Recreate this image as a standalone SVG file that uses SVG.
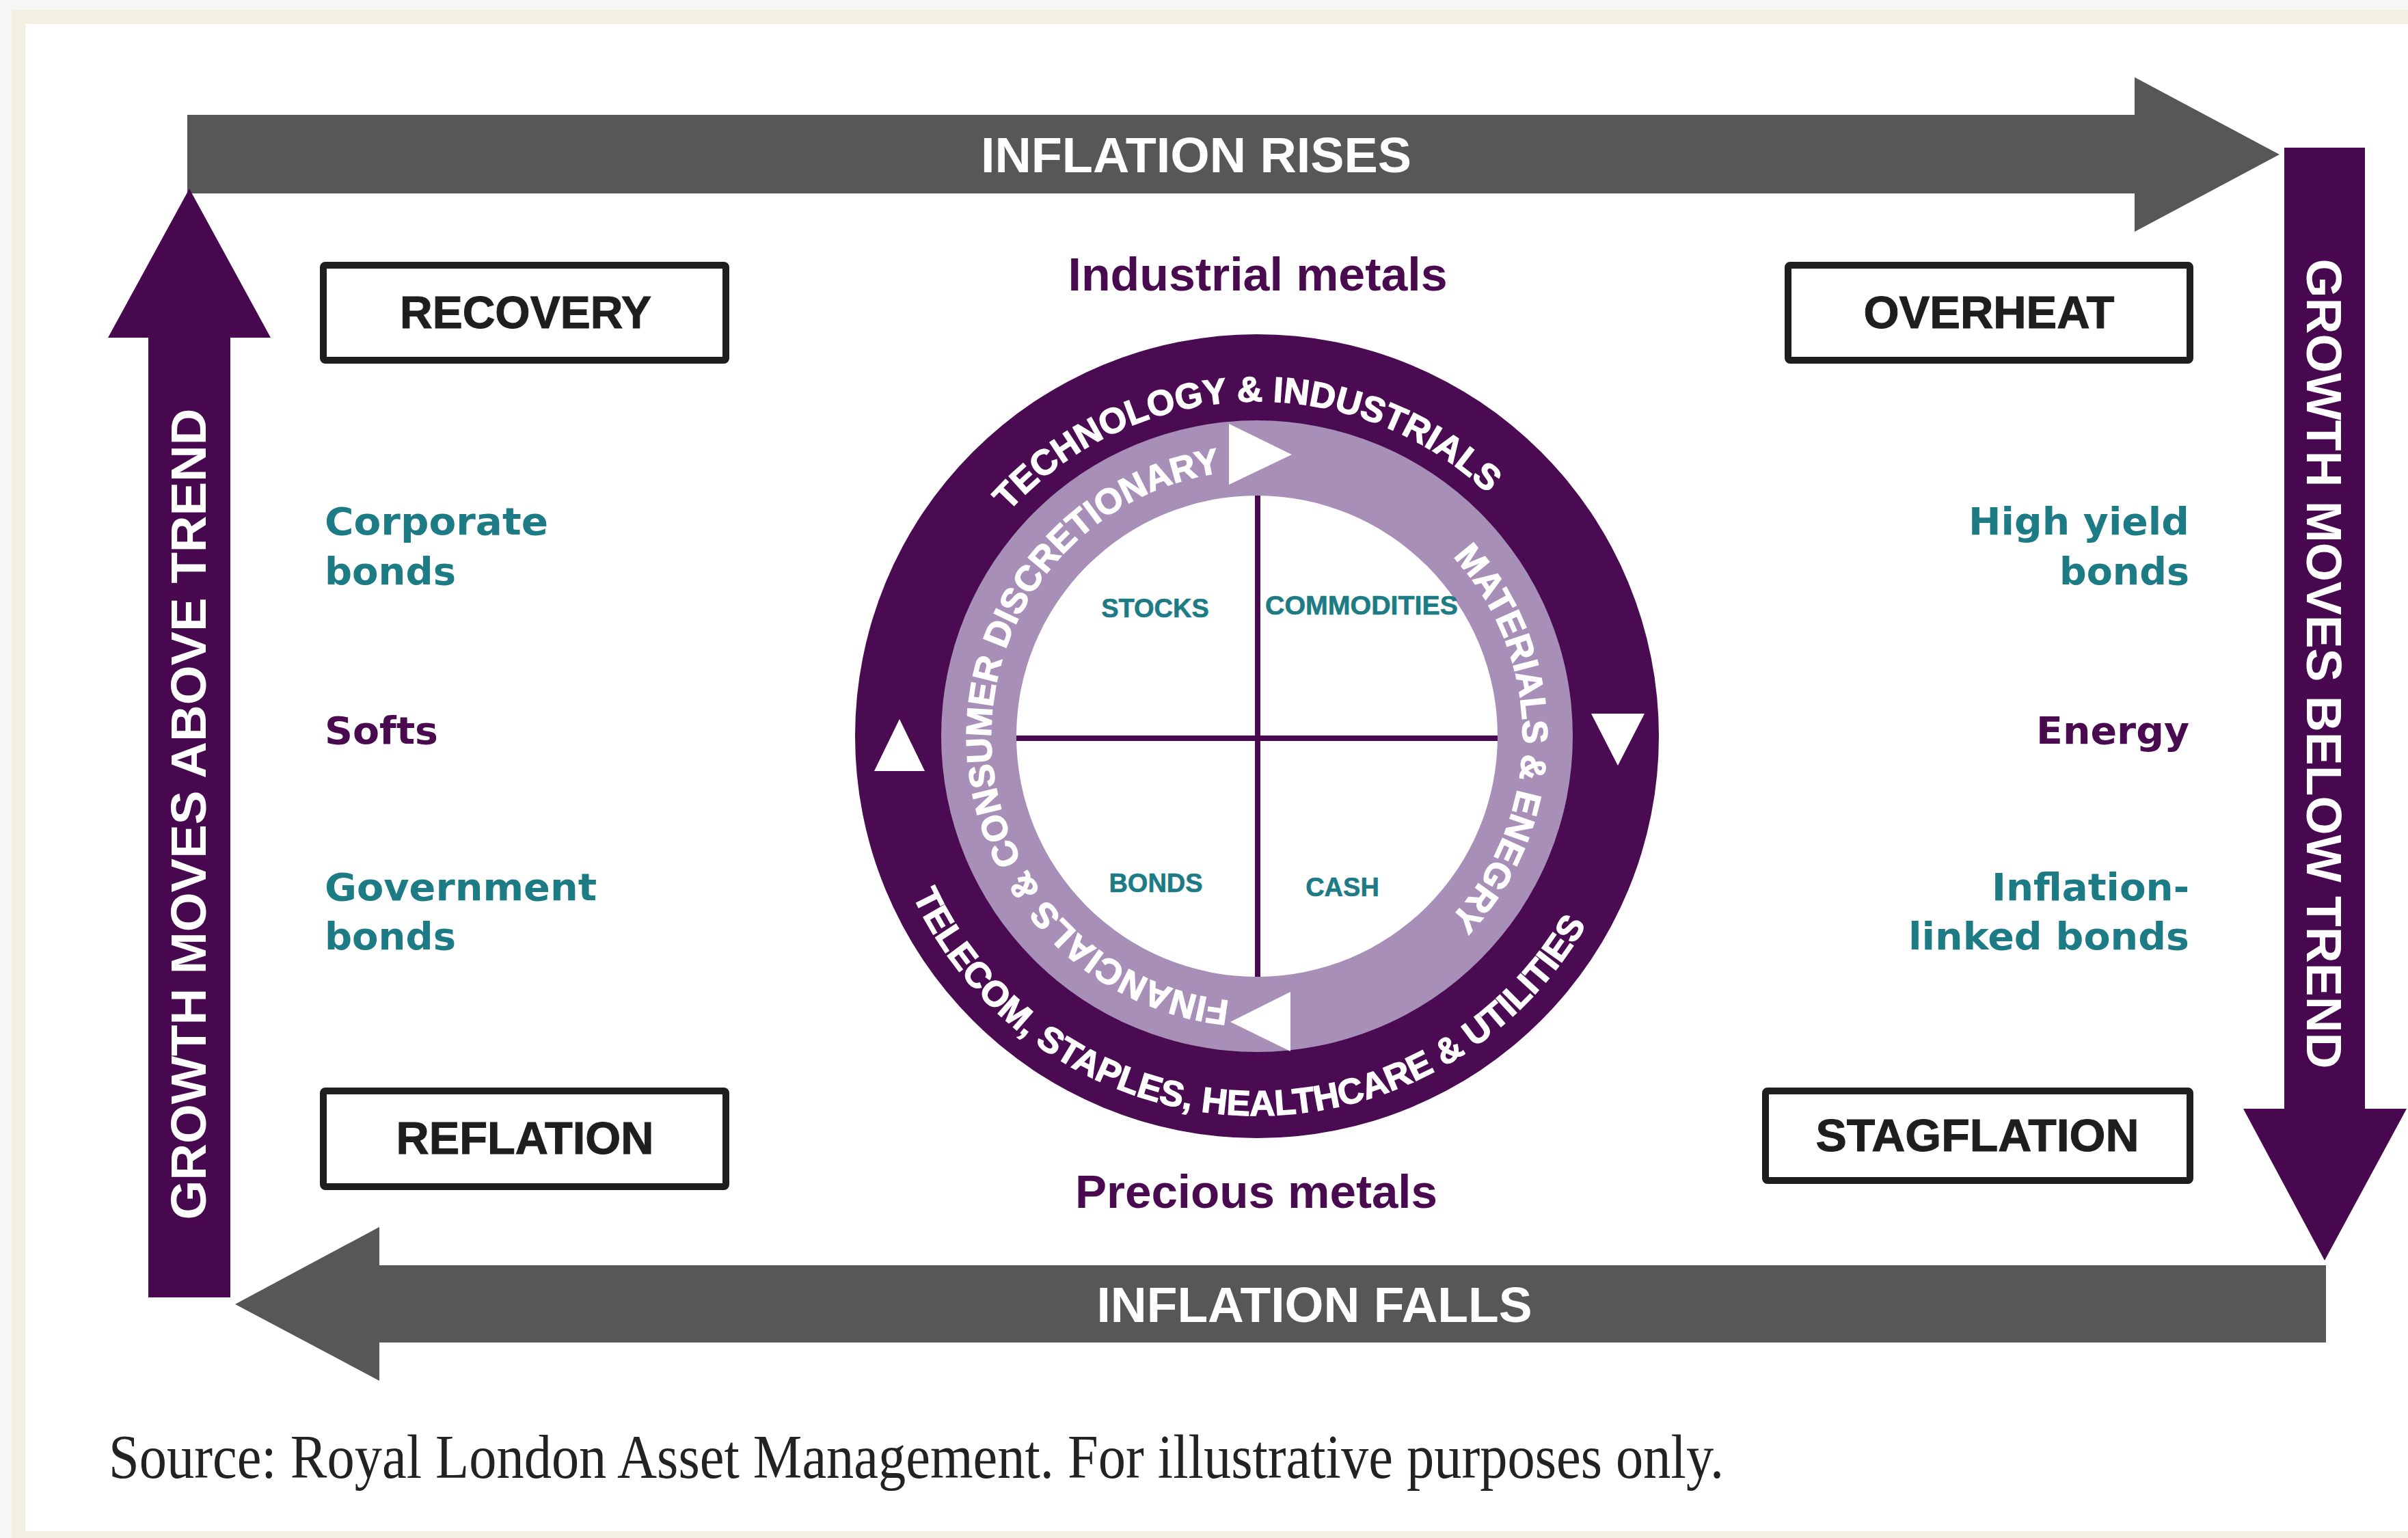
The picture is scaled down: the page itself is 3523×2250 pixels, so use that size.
<svg xmlns="http://www.w3.org/2000/svg" xmlns:xlink="http://www.w3.org/1999/xlink" width="3523" height="2250" viewBox="0 0 3523 2250">
  <style>
    .arrow-grey { fill: #575757; }
    .arrow-purple { fill: #48084f; }
    .arrow-label { font-family: "Liberation Sans", Arial, sans-serif; font-weight: bold; font-size: 72px; fill: #ffffff; }
    .phase-box { fill: #ffffff; stroke: #1e1e1e; stroke-width: 10; }
    .phase-label { font-family: "Liberation Sans", Arial, sans-serif; font-weight: bold; font-size: 66px; fill: #1e1e1e; stroke: #1e1e1e; stroke-width: 1; text-anchor: middle; }
    .asset { font-family: "DejaVu Sans", Verdana, sans-serif; font-weight: bold; font-size: 55px; }
    .teal { fill: #1c7b84; }
    .plum { fill: #4a0a50; }
    .metal { font-family: "Liberation Sans", Arial, sans-serif; font-weight: bold; font-size: 68px; fill: #4a0a50; text-anchor: middle; }
    .quad { font-family: "Liberation Sans", Arial, sans-serif; font-weight: bold; font-size: 38px; fill: #1c7b84; stroke: #1c7b84; stroke-width: 0.6; text-anchor: middle; }
    .ring-text { font-family: "Liberation Sans", Arial, sans-serif; font-weight: bold; font-size: 52px; fill: #ffffff; stroke: #ffffff; stroke-width: 1.4; text-anchor: middle; }
    .source { font-family: "Liberation Serif", "Times New Roman", serif; font-size: 90px; fill: #222222; }
  </style>
  <defs>
    <!-- outer ring, top half, clockwise (baseline inside) -->
    <path id="arcTop" d="M 1349 1077 A 490 490 0 0 1 2329 1077"/>
    <!-- outer ring, bottom half, counter-clockwise (baseline outside) -->
    <path id="arcBottom" d="M 1284 1077 A 555 555 0 0 0 2394 1077"/>
    <!-- inner ring, right half, clockwise -->
    <path id="arcRight" d="M 1839 688 A 389 389 0 0 1 1839 1466"/>
    <!-- inner ring, left half, clockwise -->
    <path id="arcLeft" d="M 1839 1466 A 389 389 0 0 1 1839 688"/>
  </defs>

  <!-- page frame -->
  <rect x="0" y="0" width="3523" height="2250" fill="#f6f6f4"/>
  <rect x="17" y="15" width="3506" height="2235" fill="#f3efe1"/>
  <rect x="37" y="35" width="3486" height="2205" fill="#ffffff"/>

  <!-- big cycle arrows -->
  <g id="connectors">
    <g id="arrow-inflation-rises">
      <polygon class="arrow-grey" points="274,168 3123,168 3123,113 3335,226 3123,339 3123,283 274,283"/>
      <text class="arrow-label" x="1750" y="252" text-anchor="middle" textLength="630" lengthAdjust="spacingAndGlyphs">INFLATION RISES</text>
    </g>
    <g id="arrow-growth-below">
      <polygon class="arrow-purple" points="3342,216 3460,216 3460,1622 3521,1622 3401,1844 3282,1622 3342,1622"/>
      <text class="arrow-label" transform="translate(3375,971) rotate(90)" text-anchor="middle" textLength="1185" lengthAdjust="spacingAndGlyphs">GROWTH MOVES BELOW TREND</text>
    </g>
    <g id="arrow-inflation-falls">
      <polygon class="arrow-grey" points="3403,1851 555,1851 555,1795 344,1908 555,2020 555,1964 3403,1964"/>
      <text class="arrow-label" x="1923" y="1934" text-anchor="middle" textLength="637" lengthAdjust="spacingAndGlyphs">INFLATION FALLS</text>
    </g>
    <g id="arrow-growth-above">
      <polygon class="arrow-purple" points="217,1898 217,494 158,494 277,276 396,494 337,494 337,1898"/>
      <text class="arrow-label" transform="translate(301,1191) rotate(-90)" text-anchor="middle" textLength="1187" lengthAdjust="spacingAndGlyphs">GROWTH MOVES ABOVE TREND</text>
    </g>
  </g>

  <!-- phase boxes -->
  <g id="recovery">
    <rect class="phase-box" x="473" y="388" width="589" height="139" rx="3"/>
    <text class="phase-label" x="769" y="480" textLength="368" lengthAdjust="spacingAndGlyphs">RECOVERY</text>
  </g>
  <g id="overheat">
    <rect class="phase-box" x="2616" y="388" width="588" height="139" rx="3"/>
    <text class="phase-label" x="2910" y="480" textLength="367" lengthAdjust="spacingAndGlyphs">OVERHEAT</text>
  </g>
  <g id="reflation">
    <rect class="phase-box" x="473" y="1596" width="589" height="140" rx="3"/>
    <text class="phase-label" x="768" y="1688" textLength="377" lengthAdjust="spacingAndGlyphs">REFLATION</text>
  </g>
  <g id="stagflation">
    <rect class="phase-box" x="2583" y="1596" width="621" height="131" rx="3"/>
    <text class="phase-label" x="2893" y="1684" textLength="473" lengthAdjust="spacingAndGlyphs">STAGFLATION</text>
  </g>

  <!-- asset labels, left column -->
  <g id="corporate-bonds">
    <text class="asset teal" x="475" y="782" textLength="327" lengthAdjust="spacingAndGlyphs">Corporate</text>
    <text class="asset teal" x="475" y="855" textLength="192" lengthAdjust="spacingAndGlyphs">bonds</text>
  </g>
  <g id="softs">
    <text class="asset plum" x="475" y="1088" textLength="166" lengthAdjust="spacingAndGlyphs">Softs</text>
  </g>
  <g id="government-bonds">
    <text class="asset teal" x="475" y="1317" textLength="398" lengthAdjust="spacingAndGlyphs">Government</text>
    <text class="asset teal" x="475" y="1389" textLength="192" lengthAdjust="spacingAndGlyphs">bonds</text>
  </g>

  <!-- asset labels, right column -->
  <g id="high-yield-bonds">
    <text class="asset teal" x="3203" y="782" text-anchor="end" textLength="323" lengthAdjust="spacingAndGlyphs">High yield</text>
    <text class="asset teal" x="3203" y="855" text-anchor="end" textLength="190" lengthAdjust="spacingAndGlyphs">bonds</text>
  </g>
  <g id="energy">
    <text class="asset plum" x="3203" y="1088" text-anchor="end" textLength="224" lengthAdjust="spacingAndGlyphs">Energy</text>
  </g>
  <g id="inflation-linked-bonds">
    <text class="asset teal" x="3203" y="1317" text-anchor="end" textLength="289" lengthAdjust="spacingAndGlyphs">Inflation-</text>
    <text class="asset teal" x="3203" y="1389" text-anchor="end" textLength="411" lengthAdjust="spacingAndGlyphs">linked bonds</text>
  </g>

  <!-- metals -->
  <g id="industrial-metals">
    <text class="metal" x="1840" y="425" textLength="555" lengthAdjust="spacingAndGlyphs">Industrial metals</text>
  </g>
  <g id="precious-metals">
    <text class="metal" x="1838" y="1767" textLength="530" lengthAdjust="spacingAndGlyphs">Precious metals</text>
  </g>

  <!-- investment clock -->
  <g id="clock">
    <circle cx="1839" cy="1077" r="588" fill="#4a0b53"/>
    <circle cx="1839" cy="1077" r="462" fill="#a78fb8"/>
    <circle cx="1839" cy="1077" r="352" fill="#ffffff"/>
    <line x1="1840" y1="725" x2="1840" y2="1429" stroke="#4a0a50" stroke-width="8"/>
    <line x1="1487" y1="1080" x2="2191" y2="1080" stroke="#4a0a50" stroke-width="8"/>

    <text class="ring-text"><textPath xlink:href="#arcTop" href="#arcTop" startOffset="751">TECHNOLOGY &amp; INDUSTRIALS</textPath></text>
    <text class="ring-text" font-size="53"><textPath xlink:href="#arcBottom" href="#arcBottom" startOffset="848">TELECOM, STAPLES, HEALTHCARE &amp; UTILITIES</textPath></text>
    <text class="ring-text"><textPath xlink:href="#arcRight" href="#arcRight" startOffset="614">MATERIALS &amp; ENEGRY</textPath></text>
    <text class="ring-text" font-size="50"><textPath xlink:href="#arcLeft" href="#arcLeft" startOffset="604">FINANCIALS &amp; CONSUMER DISCRETIONARY</textPath></text>

    <!-- direction markers -->
    <polygon points="1798,620 1798,709 1890,665" fill="#ffffff"/>
    <polygon points="1888,1451 1888,1538 1800,1495" fill="#ffffff"/>
    <polygon points="1279,1128 1353,1128 1316,1052" fill="#ffffff"/>
    <polygon points="2328,1044 2406,1044 2367,1120" fill="#ffffff"/>

    <text class="quad" x="1690" y="903">STOCKS</text>
    <text class="quad" x="1992" y="899" textLength="282" lengthAdjust="spacingAndGlyphs">COMMODITIES</text>
    <text class="quad" x="1691" y="1305">BONDS</text>
    <text class="quad" x="1964" y="1311">CASH</text>
  </g>

  <!-- caption -->
  <text class="source" x="159" y="2162" textLength="2363" lengthAdjust="spacingAndGlyphs">Source: Royal London Asset Management. For illustrative purposes only.</text>
</svg>
